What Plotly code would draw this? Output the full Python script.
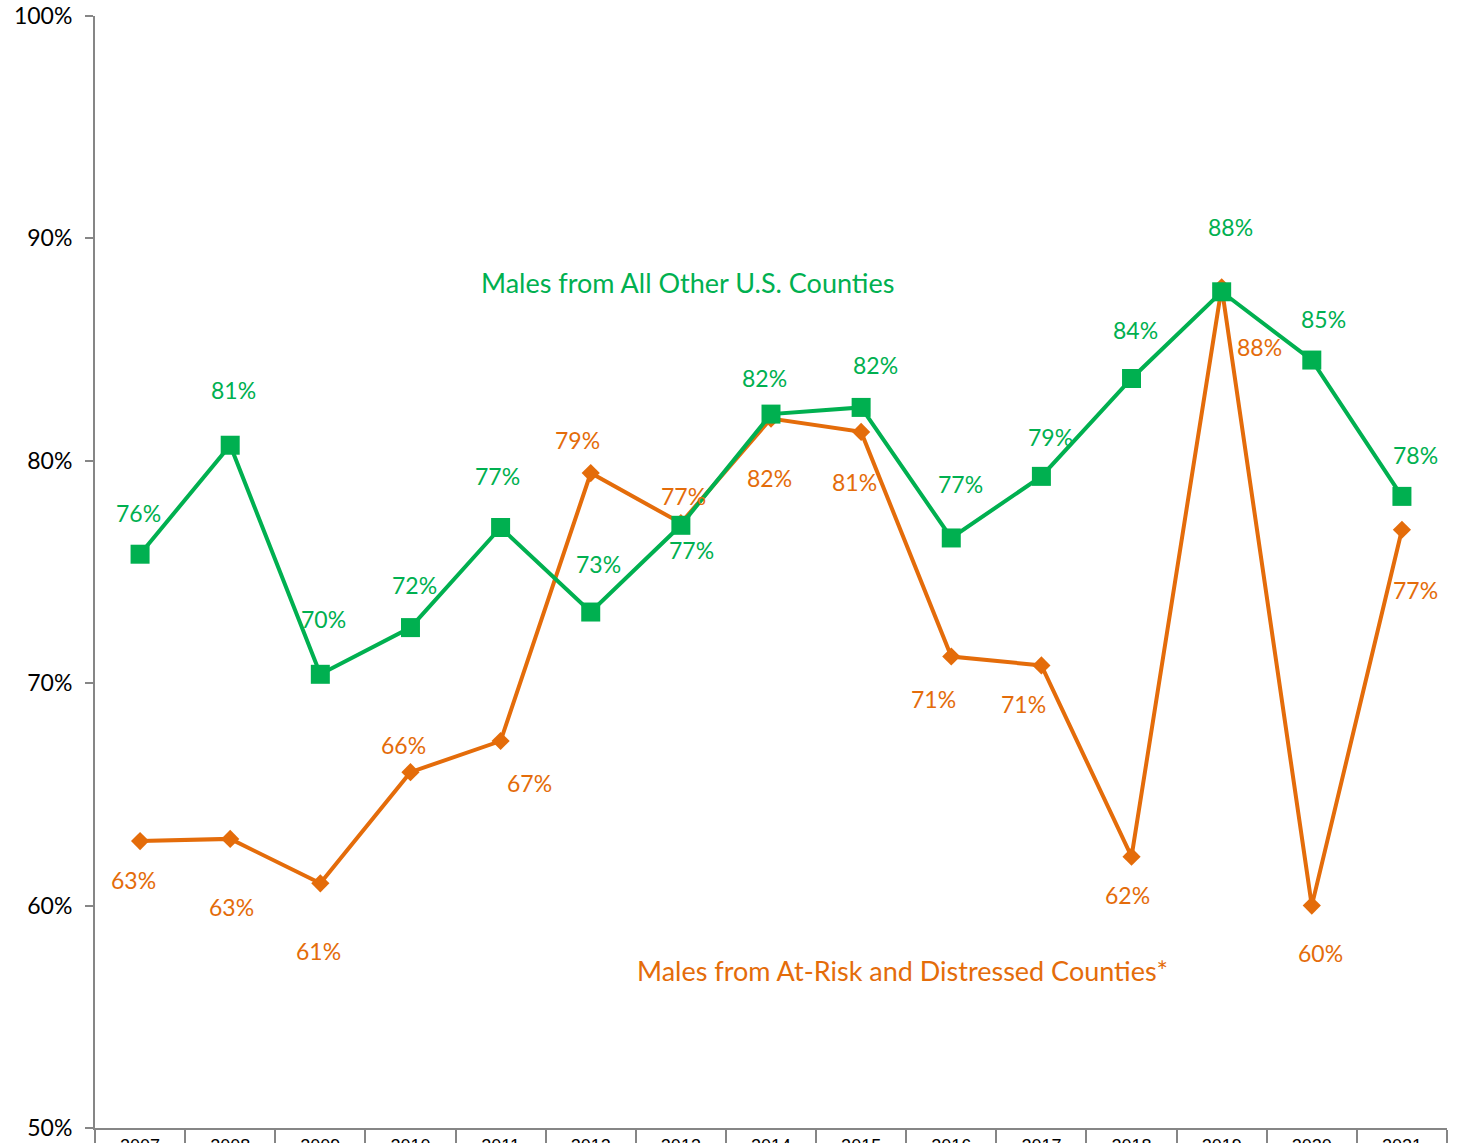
import plotly.graph_objects as go

years = ["2007", "2008", "2009", "2010", "2011", "2012", "2013", "2014",
         "2015", "2016", "2017", "2018", "2019", "2020", "2021"]
other_counties = [75.8, 80.7, 70.4, 72.5, 77.0, 73.2, 77.1, 82.1,
                  82.4, 76.53, 79.3, 83.7, 87.6, 84.53, 78.4]
atrisk_counties = [62.9, 63.0, 61.0, 66.0, 67.4, 79.45, 77.2, 81.9,
                   81.3, 71.2, 70.8, 62.2, 87.8, 60.0, 76.9]

GREEN = "#00B050"
ORANGE = "#E46C0A"
FONT = "Lato"

# label offsets (px) relative to markers: (dx, dy) with dy positive = down
green_off = [(-2, -41), (3, -55), (3, -55), (4, -43), (-3, -52), (8, -48), (11, 25),
             (-7, -36), (14, -42), (9, -54), (9, -39), (4, -49), (9, -65), (12, -41), (14, -41)]
orange_off = [(-7, 39), (1, 68), (-2, 68), (-7, -27), (29, 42), (-13, -33), (3, -27),
              (-2, 59), (-7, 50), (-18, 42), (-18, 39), (-4, 38), (38, 60), (9, 47), (14, 60)]

fig = go.Figure()
fig.add_trace(go.Scatter(
    x=years, y=atrisk_counties, mode="lines+markers",
    line=dict(color=ORANGE, width=4),
    marker=dict(symbol="diamond", size=14, color=ORANGE),
    name="Males from At-Risk and Distressed Counties*", showlegend=False))
fig.add_trace(go.Scatter(
    x=years, y=other_counties, mode="lines+markers",
    line=dict(color=GREEN, width=4),
    marker=dict(symbol="square", size=19, color=GREEN),
    name="Males from All Other U.S. Counties", showlegend=False))

annotations = []
for i, (v, (dx, dy)) in enumerate(zip(other_counties, green_off)):
    annotations.append(dict(x=i, y=v, text=f"{round(v)}%", showarrow=False,
                            xshift=dx, yshift=-dy,
                            font=dict(family=FONT, size=23, color=GREEN)))
for i, (v, (dx, dy)) in enumerate(zip(atrisk_counties, orange_off)):
    annotations.append(dict(x=i, y=v, text=f"{round(v)}%", showarrow=False,
                            xshift=dx, yshift=-dy,
                            font=dict(family=FONT, size=23, color=ORANGE)))

annotations.append(dict(x=0.438, xref="paper", y=88.0, yref="y",
                        text="Males from All Other U.S. Counties", showarrow=False,
                        font=dict(family=FONT, size=27, color=GREEN)))
annotations.append(dict(x=0.597, xref="paper", y=57.1, yref="y",
                        text="Males from At-Risk and Distressed Counties*", showarrow=False,
                        font=dict(family=FONT, size=27, color=ORANGE)))

fig.update_layout(
    width=1461, height=1143, autosize=False,
    margin=dict(l=95, r=14, t=16, b=15),
    paper_bgcolor="white", plot_bgcolor="white",
    annotations=annotations,
    xaxis=dict(type="category", range=[-0.5, 14.5], showgrid=False, automargin=False,
               showline=True, linecolor="#868686", linewidth=2,
               ticks="outside", tickson="boundaries", ticklen=20, tickwidth=2,
               tickcolor="#868686",
               tickfont=dict(family="Liberation Sans", size=18, color="black")),
    yaxis=dict(range=[50, 100], dtick=10, ticksuffix="%", showgrid=False, automargin=False,
               zeroline=False, showline=True, linecolor="#868686", linewidth=2,
               ticks="outside", ticklen=8, tickwidth=2, tickcolor="#868686",
               ticklabelstandoff=8,
               tickfont=dict(family=FONT, size=23, color="black")),
)

fig.write_html("out.html", config={"displayModeBar": False},
               post_script="document.body.style.margin='0';")
